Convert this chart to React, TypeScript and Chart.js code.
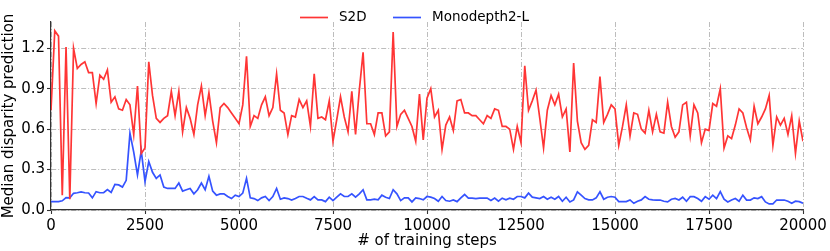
import React, { useEffect, useRef } from "react";
import { Chart, registerables } from "chart.js";

Chart.register(...registerables);

// Training step of every sample (one sample each 100 steps, 0 … 20000)
const STEP_SIZE = 100;
const steps: number[] = Array.from({ length: 201 }, (_, i) => i * STEP_SIZE);

// S2D median disparity prediction
const s2d: number[] = [
  0.74, 1.33, 1.29, 0.11, 1.21, 0.08, 1.2, 1.05, 1.08, 1.1,
  1.02, 1.02, 0.79, 1.0, 0.97, 1.04, 0.8, 0.84, 0.75, 0.74,
  0.82, 0.78, 0.56, 0.92, 0.42, 0.46, 1.1, 0.85, 0.68, 0.65,
  0.68, 0.7, 0.88, 0.7, 0.88, 0.58, 0.76, 0.68, 0.56, 0.78,
  0.92, 0.7, 0.87, 0.66, 0.5, 0.76, 0.79, 0.76, 0.72, 0.68,
  0.64, 0.78, 1.14, 0.62, 0.7, 0.68, 0.78, 0.84, 0.7, 0.76,
  1.01, 0.74, 0.72, 0.56, 0.7, 0.69, 0.82, 0.76, 0.81, 0.62,
  1.01, 0.68, 0.69, 0.67, 0.81, 0.51, 0.67, 0.84, 0.69, 0.58,
  0.88, 0.56, 0.89, 1.17, 0.64, 0.64, 0.56, 0.72, 0.72, 0.55,
  0.58, 1.32, 0.62, 0.71, 0.74, 0.68, 0.62, 0.51, 0.86, 0.52,
  0.83, 0.9, 0.69, 0.74, 0.45, 0.63, 0.69, 0.59, 0.81, 0.82,
  0.72, 0.72, 0.7, 0.7, 0.67, 0.64, 0.7, 0.68, 0.75, 0.74,
  0.62, 0.62, 0.6, 0.45, 0.62, 0.5, 1.07, 0.74, 0.81, 0.89,
  0.68, 0.46, 0.74, 0.85, 0.78, 0.86, 0.69, 0.75, 0.43, 1.09,
  0.66, 0.5, 0.45, 0.48, 0.67, 0.65, 0.99, 0.65, 0.71, 0.78,
  0.75, 0.48, 0.62, 0.78, 0.55, 0.72, 0.71, 0.6, 0.57, 0.74,
  0.58, 0.71, 0.58, 0.57, 0.8, 0.62, 0.54, 0.58, 0.78, 0.8,
  0.55, 0.78, 0.72, 0.5, 0.6, 0.59, 0.79, 0.77, 0.9, 0.46,
  0.55, 0.53, 0.63, 0.75, 0.72, 0.61, 0.52, 0.77, 0.64, 0.69,
  0.75, 0.85, 0.48, 0.69, 0.63, 0.68, 0.56, 0.7, 0.42, 0.66,
  0.51,
];

// Monodepth2-L median disparity prediction
const monodepth2L: number[] = [
  0.062, 0.062, 0.062, 0.068, 0.092, 0.09, 0.124, 0.128, 0.134, 0.128,
  0.126, 0.09, 0.136, 0.128, 0.128, 0.152, 0.13, 0.19, 0.186, 0.17,
  0.22, 0.57, 0.43, 0.26, 0.44, 0.21, 0.36, 0.28, 0.235, 0.26,
  0.17, 0.16, 0.16, 0.16, 0.2, 0.14, 0.15, 0.16, 0.12, 0.15,
  0.2, 0.15, 0.25, 0.14, 0.11, 0.12, 0.12, 0.1, 0.085, 0.11,
  0.1, 0.125, 0.235, 0.09, 0.085, 0.07, 0.09, 0.1, 0.07, 0.1,
  0.16, 0.08, 0.09, 0.085, 0.074, 0.086, 0.1, 0.1, 0.087, 0.075,
  0.1, 0.075, 0.075, 0.062, 0.095, 0.07, 0.095, 0.12, 0.1, 0.1,
  0.12, 0.095, 0.12, 0.15, 0.075, 0.075, 0.08, 0.075, 0.11, 0.095,
  0.085, 0.15, 0.12, 0.07, 0.09, 0.09, 0.06, 0.09, 0.085, 0.075,
  0.1, 0.095, 0.085, 0.065, 0.1, 0.07, 0.065, 0.075, 0.062, 0.09,
  0.115, 0.088, 0.088, 0.085, 0.088, 0.088, 0.088, 0.07, 0.088, 0.065,
  0.088, 0.075, 0.088, 0.08, 0.1, 0.1, 0.09, 0.125, 0.095, 0.09,
  0.085, 0.1, 0.08, 0.095, 0.08, 0.1, 0.065, 0.095, 0.06, 0.075,
  0.135, 0.11, 0.085, 0.075, 0.075, 0.09, 0.135, 0.08, 0.095, 0.1,
  0.095, 0.062, 0.062, 0.062, 0.075, 0.05, 0.065, 0.075, 0.1, 0.08,
  0.075, 0.074, 0.074, 0.065, 0.06, 0.08, 0.086, 0.074, 0.095, 0.065,
  0.099, 0.099, 0.085, 0.065, 0.099, 0.08, 0.11, 0.085, 0.136, 0.08,
  0.06, 0.074, 0.085, 0.065, 0.11, 0.074, 0.074, 0.09, 0.085, 0.099,
  0.06, 0.045, 0.045, 0.074, 0.074, 0.074, 0.065, 0.05, 0.065, 0.062,
  0.05,
];

const seriesNames = ["S2D", "Monodepth2-L"];
const xTicks = [0, 2500, 5000, 7500, 10000, 12500, 15000, 17500, 20000];
const yTicks = [0, 0.3, 0.6, 0.9, 1.2];

const RED = "#ff3535";
const BLUE = "#3553ff";
const FONT = "'DejaVu Sans', 'Liberation Sans', sans-serif";

const legendPlugin = {
  id: "customLegend",
  afterDraw(chart: any) {
    const ctx = chart.ctx;
    const y = 17.5;
    const items = [
      { color: RED, text: seriesNames[0], x: 300 },
      { color: BLUE, text: seriesNames[1], x: 393 },
    ];
    ctx.save();
    ctx.font = `13.5px ${FONT}`;
    ctx.textBaseline = "middle";
    ctx.fillStyle = "#000";
    items.forEach((it) => {
      ctx.strokeStyle = it.color;
      ctx.lineWidth = 1.7;
      ctx.beginPath();
      ctx.moveTo(it.x, y);
      ctx.lineTo(it.x + 28, y);
      ctx.stroke();
      ctx.fillText(it.text, it.x + 39, y);
    });
    ctx.restore();
  },
};

export default function App() {
  const ref = useRef<HTMLCanvasElement | null>(null);

  useEffect(() => {
    if (!ref.current) return;
    const grid = () => ({
      color: "#b5b5b5",
      lineWidth: 0.9,
      tickLength: 4,
      tickColor: "#333",
      tickWidth: 1.1,
      tickBorderDash: [],
    });
    const border = () => ({
      display: true,
      color: "#333",
      width: 1.2,
      dash: [5, 2, 1, 2],
    });
    const chart = new Chart(ref.current, {
      type: "line",
      data: {
        datasets: [
          {
            label: seriesNames[0],
            data: steps.map((s, i) => ({ x: s, y: s2d[i] })),
            borderColor: RED,
            borderWidth: 1.7,
            pointRadius: 0,
            tension: 0,
          },
          {
            label: seriesNames[1],
            data: steps.map((s, i) => ({ x: s, y: monodepth2L[i] })),
            borderColor: BLUE,
            borderWidth: 1.7,
            pointRadius: 0,
            tension: 0,
          },
        ],
      },
      options: {
        animation: false,
        responsive: false,
        events: [],
        layout: { padding: { top: 22, right: 27, left: 0, bottom: 0 } },
        plugins: { legend: { display: false }, tooltip: { enabled: false } },
        scales: {
          x: {
            type: "linear",
            min: 0,
            max: 20000,
            afterFit: (s: any) => {
              s.height = 41;
            },
            afterBuildTicks: (s: any) => {
              s.ticks = xTicks.map((v) => ({ value: v }));
            },
            ticks: {
              color: "#000",
              padding: 3,
              maxRotation: 0,
              autoSkip: false,
              font: { family: FONT, size: 15 },
              callback: (v: any) => String(v),
            },
            grid: grid(),
            border: border(),
            title: {
              display: true,
              text: "# of training steps",
              color: "#000",
              font: { family: FONT, size: 15 },
              padding: { top: 0, bottom: 1 },
            },
          },
          y: {
            type: "linear",
            min: 0,
            max: 1.395,
            afterFit: (s: any) => {
              s.width = 51;
            },
            afterBuildTicks: (s: any) => {
              s.ticks = yTicks.map((v) => ({ value: v }));
            },
            ticks: {
              color: "#000",
              padding: 2,
              autoSkip: false,
              font: { family: FONT, size: 15 },
              callback: (v: any) => Number(v).toFixed(1),
            },
            grid: grid(),
            border: border(),
            title: {
              display: true,
              text: "Median disparity prediction",
              color: "#000",
              font: { family: FONT, size: 15 },
              padding: { top: 0, bottom: 0 },
            },
          },
        },
      },
      plugins: [legendPlugin],
    } as any);
    return () => chart.destroy();
  }, []);

  return (
    <div style={{ position: "fixed", left: 0, top: 0, width: 830, height: 251, background: "#fff" }}>
      <canvas ref={ref} width={830} height={251} style={{ width: 830, height: 251, display: "block" }} />
    </div>
  );
}
